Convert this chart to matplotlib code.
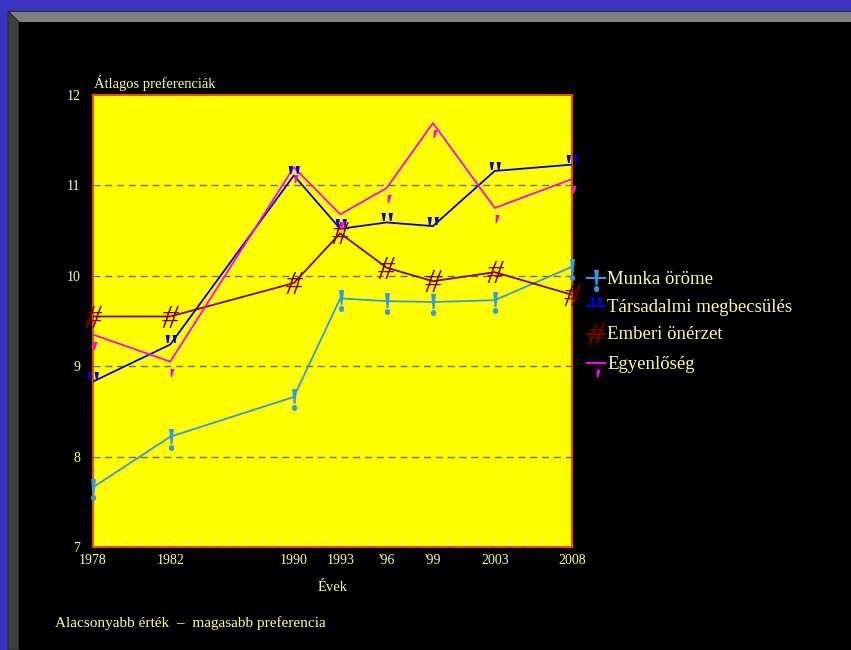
#Recreate the preference chart (Hungarian survey averages)

#imports
import matplotlib
matplotlib.use("Agg")
import matplotlib.pyplot as plt
from matplotlib.patches import Polygon, Rectangle
from matplotlib.lines import Line2D

# data
yearPos = [1977, 1982, 1990, 1993, 1996, 1999, 2003, 2008]
yearLabels = ["1978", "1982", "1990", "1993", "'96", "'99", "2003", "2008"]

munka = [7.66, 8.22, 8.66, 9.75, 9.72, 9.71, 9.73, 10.10]
tarsadalmi = [8.83, 9.24, 11.11, 10.52, 10.59, 10.55, 11.16, 11.23]
emberi = [9.55, 9.55, 9.92, 10.47, 10.09, 9.94, 10.04, 9.79]
egyenloseg = [9.35, 9.05, 11.20, 10.68, 10.97, 11.69, 10.75, 11.07]

seriesNames = ["Munka öröme", "Társadalmi megbecsülés", "Emberi önérzet", "Egyenlőség"]
seriesData = [munka, tarsadalmi, emberi, egyenloseg]
seriesColors = ["#3399e6", "#0000ee", "#800000", "#ff00ff"]
seriesChars = ["!", '"', "#", "'"]
charShift = [-4, -3, -2, -15]
charStyle = ["normal", "normal", "italic", "italic"]
charWeight = ["bold", "bold", "normal", "bold"]
charSize = 24

textColor = "#ffff99"
plt.rcParams['font.family'] = ['Liberation Serif', 'DejaVu Serif']

W, H = 851, 650
fig = plt.figure(figsize=(W / 100, H / 100), dpi=100)
fig.patch.set_facecolor("black")

def px(x, y):
	return (x / W, 1 - y / H)

#slide frame: blue border and grey bevel
fig.patches.append(Rectangle((0, 0), 1, 1, transform=fig.transFigure,
	facecolor="#3a33bf", edgecolor="none", zorder=0))
fig.patches.append(Polygon([px(8, 11), px(W, 11), px(W, 22), px(19, 22)],
	closed=True, transform=fig.transFigure, facecolor="#808080",
	edgecolor="#202020", lw=0.6, zorder=1))
fig.patches.append(Polygon([px(8, 11), px(19, 22), px(19, H), px(8, H)],
	closed=True, transform=fig.transFigure, facecolor="#404040",
	edgecolor="#202020", lw=0.6, zorder=1))
fig.patches.append(Rectangle(px(19, H), (W - 19) / W, (H - 22) / H,
	transform=fig.transFigure, facecolor="black", edgecolor="none", zorder=1))

ax = fig.add_axes([93 / W, 1 - 547 / H, (572 - 93) / W, (547 - 95) / H])
ax.set_facecolor("#ffff00")
ax.set_zorder(2)

for name, vals, col, ch, dy, st, wt in zip(seriesNames, seriesData, seriesColors,
		seriesChars, charShift, charStyle, charWeight):
	ax.plot(yearPos, vals, color=col, lw=1.3, zorder=3)
	for x, y in zip(yearPos, vals):
		ax.annotate(ch, (x, y), xytext=(0, dy), textcoords="offset points",
			ha="center", va="center", color=col, fontsize=charSize,
			fontstyle=st, fontweight=wt, zorder=4, annotation_clip=False)

ax.set_xlim(1977, 2008)
ax.set_ylim(7, 12)

#gridlines
for g in [8, 9, 10, 11]:
	ax.axhline(g, color="#66664a", lw=1.0, ls=(0, (5, 3.5)), zorder=2)

ax.set_xticks(yearPos)
ax.set_xticklabels(yearLabels)
ax.set_xticks(range(1977, 2009), minor=True)
ax.set_yticks([7, 8, 9, 10, 11, 12])
ax.tick_params(axis="x", which="both", direction="in", color="white",
	length=4, width=1, pad=5, labelsize=10, labelcolor=textColor)
ax.tick_params(axis="y", direction="in", color="white", length=6, width=1.2,
	pad=9, labelsize=10, labelcolor=textColor)
for s in ax.spines.values():
	s.set_color("#e85000")
	s.set_linewidth(1.5)

ax.set_xlabel("Évek", color=textColor, fontsize=10.5, labelpad=10)
ax.text(0.003, 1.008, "Átlagos preferenciák", transform=ax.transAxes,
	ha="left", va="bottom", color=textColor, fontsize=10.5)

#legend drawn by hand, to keep the character markers
rowsY = [278, 306, 334, 363]
for name, col, ch, dy, st, wt, ry in zip(seriesNames, seriesColors, seriesChars,
		charShift, charStyle, charWeight, rowsY):
	x0, y0 = px(587, ry)
	x1, _ = px(605, ry)
	fig.add_artist(Line2D([x0, x1], [y0, y0], color=col, lw=1.5, zorder=5))
	fig.text((x0 + x1) / 2, y0 + dy / 0.72 / H, ch, ha="center", va="center",
		color=col, fontsize=charSize, fontstyle=st, fontweight=wt, zorder=5)
	tx, ty = px(607, ry + 1)
	fig.text(tx, ty, name, ha="left", va="center", color=textColor, fontsize=13.5, zorder=5)

bx, by = px(55, 623)
fig.text(bx, by, "Alacsonyabb érték  –  magasabb preferencia", ha="left",
	va="center", color=textColor, fontsize=11)

fig.savefig("out.png", dpi=100, facecolor=fig.get_facecolor())
